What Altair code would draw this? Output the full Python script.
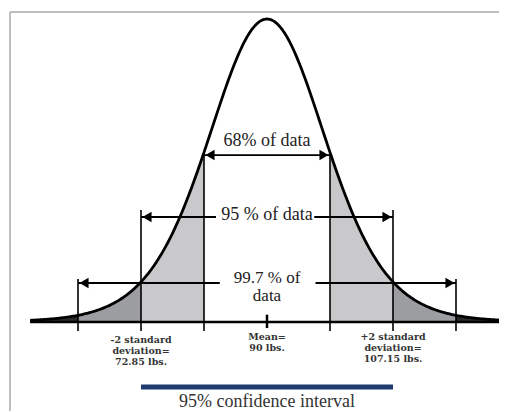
import altair as alt
import numpy as np
import pandas as pd

MEAN = 90.0
SD = 8.575  # (107.15 - 72.85) / 4

# curve shape (bell curve as drawn in the illustration, peak = 1)
NU = 10.0
S2NU = 8.993

def bell(zz):
    return (1 + np.asarray(zz) ** 2 / S2NU) ** (-(NU + 1) / 2)

# Reference levels (relative height, peak = 1)
lvl_68_arrow = 0.551
lvl_68_text = 0.598
lvl_95 = 0.3465
lvl_2sd_top = 0.37
lvl_997 = 0.1287
lvl_3sd_top = 0.142
lvl_below = -0.03
lvl_ci_bar = -0.2145
lvl_ci_text = -0.264

band_names = ["light", "mid", "dark"]
band_colors = ["#c9c9cc", "#9c9da1", "#2b2b2b"]

z = np.round(np.arange(-3.76, 3.72, 0.02), 4)
curve = pd.DataFrame({"x": MEAN + SD * z, "f": bell(z)})

def band(z0, z1, name, side):
    zz = np.linspace(z0, z1, 60)
    return pd.DataFrame({"x": MEAN + SD * zz, "f": bell(zz),
                         "band": name, "seg": f"{name}_{side}"})

areas = pd.concat([
    band(-2, -1, "light", "L"), band(1, 2, "light", "R"),
    band(-3, -2, "mid", "L"), band(2, 3, "mid", "R"),
    band(-3.76, -3, "dark", "L"), band(3, 3.7, "dark", "R"),
])

H = 403
xmin, xmax = MEAN + SD * (-259 / 63), MEAN + SD * (232 / 63)
xs = alt.Scale(domain=[xmin, xmax], nice=False, zero=False)
ys = alt.Scale(domain=[(314 - H) / 303, 314 / 303], nice=False, zero=False)

def X(f="x"):
    return alt.X(f"{f}:Q", scale=xs, axis=None)

def Y(f="f"):
    return alt.Y(f"{f}:Q", scale=ys, axis=None)

area_layer = alt.Chart(areas).mark_area(opacity=1).encode(
    x=X(), y=Y(), y2=alt.datum(0), detail="seg:N",
    color=alt.Color("band:N", scale=alt.Scale(domain=band_names, range=band_colors), legend=None),
)

baseline = pd.DataFrame({"x": [MEAN + SD * -3.76], "x2": [MEAN + SD * 3.7], "f": [0.0]})
base_layer = alt.Chart(baseline).mark_rule(color="black", strokeWidth=2.5).encode(
    x=X(), x2="x2:Q", y=Y())

top1 = float(bell(1.0))
vlines = pd.DataFrame({
    "x": [MEAN - SD, MEAN + SD, MEAN - 2 * SD, MEAN + 2 * SD, MEAN - 3 * SD, MEAN + 3 * SD, MEAN],
    "f": [lvl_below] * 6 + [-0.02],
    "f2": [top1, top1, lvl_2sd_top, lvl_2sd_top, lvl_3sd_top, lvl_3sd_top, 0.024],
    "w": [1.6] * 6 + [2.5],
})
vline_layer = alt.Chart(vlines).mark_rule(color="black").encode(
    x=X(), y=Y(), y2="f2:Q", strokeWidth=alt.StrokeWidth("w:Q", scale=None))

curve_layer = alt.Chart(curve).mark_line(color="black", strokeWidth=2.8).encode(x=X(), y=Y())

# arrow shafts
shafts = pd.DataFrame({
    "x": [MEAN - SD, MEAN - 2 * SD, MEAN + SD * 0.75, MEAN - 3 * SD, MEAN + SD * 0.77],
    "x2": [MEAN + SD, MEAN - SD * 0.81, MEAN + 2 * SD, MEAN - SD * 0.75, MEAN + 3 * SD],
    "f": [lvl_68_arrow, lvl_95, lvl_95, lvl_997, lvl_997],
})
shaft_layer = alt.Chart(shafts).mark_rule(color="black", strokeWidth=1.8).encode(
    x=X(), x2="x2:Q", y=Y())

heads_left = pd.DataFrame({"x": [MEAN - SD, MEAN - 2 * SD, MEAN - 3 * SD],
                           "f": [lvl_68_arrow, lvl_95, lvl_997]})
heads_right = pd.DataFrame({"x": [MEAN + SD, MEAN + 2 * SD, MEAN + 3 * SD],
                            "f": [lvl_68_arrow, lvl_95, lvl_997]})
hl = alt.Chart(heads_left).mark_point(shape="triangle-left", filled=True, color="black",
                                      size=110, opacity=1, xOffset=6).encode(x=X(), y=Y())
hr = alt.Chart(heads_right).mark_point(shape="triangle-right", filled=True, color="black",
                                       size=110, opacity=1, xOffset=-6).encode(x=X(), y=Y())

labels = pd.DataFrame({
    "x": [MEAN, MEAN],
    "f": [lvl_68_text, lvl_95 + 0.008],
    "t": ["68% of data", "95 % of data"],
})
label_layer = alt.Chart(labels).mark_text(font="Liberation Serif", fontSize=18, color="#222").encode(
    x=X(), y=Y(), text="t:N")
labels2 = pd.DataFrame({"x": [MEAN, MEAN], "f": [0.1452, 0.0871],
                        "t": ["99.7 % of", "data"]})
label2_layer = alt.Chart(labels2).mark_text(font="Liberation Serif", fontSize=17, color="#222").encode(
    x=X(), y=Y(), text="t:N")

bottom = pd.DataFrame({
    "x": [MEAN - 2 * SD, MEAN, MEAN + 2 * SD],
    "f": [-0.043, -0.033, -0.033],
    "t": ["-2 standard\ndeviation=\n72.85 lbs.", "Mean=\n90 lbs.", "+2 standard\ndeviation=\n107.15 lbs."],
})
bottom_layer = alt.Chart(bottom).mark_text(font="DejaVu Serif", fontSize=9.5, fontWeight="bold",
                                           color="#333", lineBreak="\n", lineHeight=11,
                                           baseline="top").encode(x=X(), y=Y(), text="t:N")

ci = pd.DataFrame({"x": [MEAN - 2 * SD], "x2": [MEAN + 2 * SD], "f": [lvl_ci_bar]})
ci_layer = alt.Chart(ci).mark_rule(color="#1e3c6f", strokeWidth=5).encode(x=X(), x2="x2:Q", y=Y())
ci_text = pd.DataFrame({"x": [MEAN], "f": [lvl_ci_text], "t": ["95% confidence interval"]})
ci_text_layer = alt.Chart(ci_text).mark_text(font="Liberation Serif", fontSize=18, color="#333").encode(
    x=X(), y=Y(), text="t:N")

frame_v = alt.Chart(pd.DataFrame({"k": [0]})).mark_rule(color="#a8a8a8", strokeWidth=1.5).encode(
    x=alt.value(2), y=alt.value(4), y2=alt.value(H))
frame_h = alt.Chart(pd.DataFrame({"k": [0]})).mark_rule(color="#a8a8a8", strokeWidth=1.5).encode(
    x=alt.value(2), x2=alt.value(491), y=alt.value(4))

chart = alt.layer(
    frame_v, frame_h, area_layer, base_layer, vline_layer, curve_layer, shaft_layer, hl, hr,
    label_layer, label2_layer, bottom_layer, ci_layer, ci_text_layer,
).properties(width=491, height=H, autosize=alt.AutoSizeParams(type="none"), padding=0,
             background="white").configure_view(strokeWidth=0)

chart.save("out.html", embed_options={"renderer": "svg", "actions": False})
